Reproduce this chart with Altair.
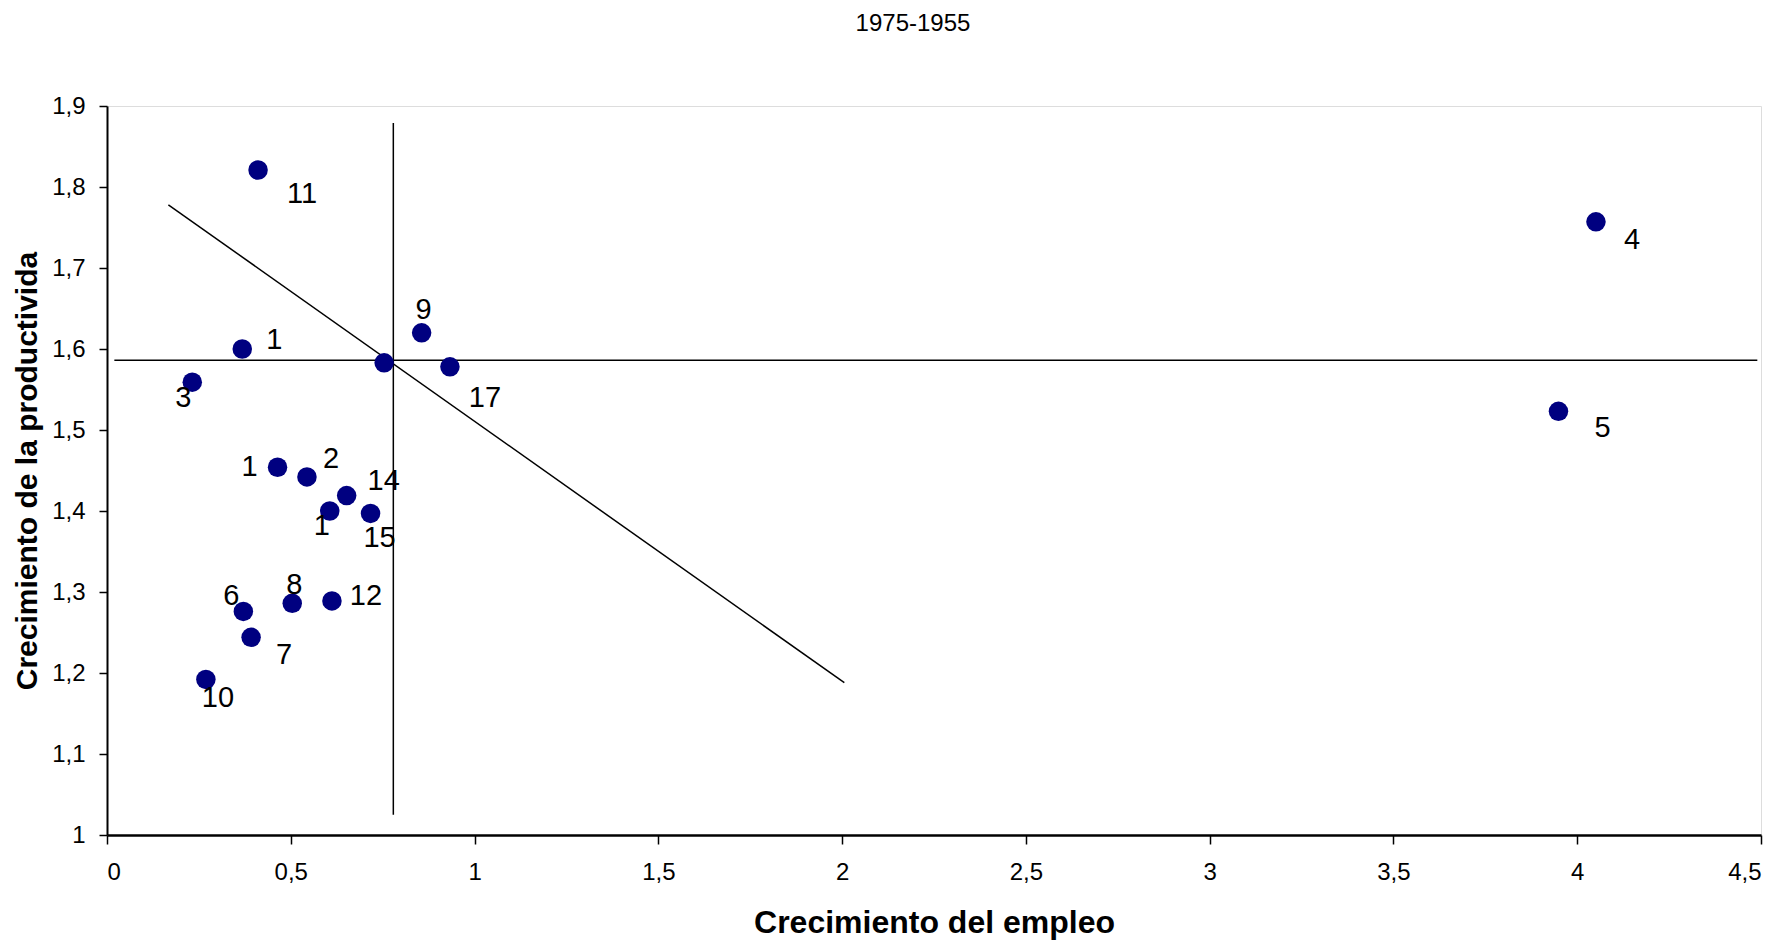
import altair as alt
import pandas as pd

# ---- data ----
labels = ["11", "1", "3", "", "9", "17", "4", "5", "1", "2", "14", "1", "15", "6", "8", "12", "7", "10"]
empleo = [0.411, 0.368, 0.232, 0.754, 0.856, 0.933, 4.051, 3.949, 0.464, 0.544, 0.652, 0.606, 0.717, 0.371, 0.504, 0.612, 0.392, 0.269]
productividad = [1.821, 1.600, 1.559, 1.583, 1.620, 1.578, 1.757, 1.523, 1.454, 1.442, 1.419, 1.400, 1.397, 1.276, 1.286, 1.289, 1.244, 1.192]
# label nudges in pixels (right, down)
label_dx = [44, 32, -9, 0, 2, 35, 36, 44, -28, 24, 37, -8, 9, -12, 2, 34, 33, 12]
label_dy = [24, -9, 16, 0, -23, 31, 18, 17, 0, -18, -15, 15, 25, -15, -18, -5, 18, 19]

hline_x = [0.02, 4.49]
hline_y = [1.586, 1.586]
vline_x = [0.779, 0.779]
vline_y = [1.025, 1.879]
diag_x = [0.167, 2.006]
diag_y = [1.778, 1.188]

x_ticks = [0, 0.5, 1, 1.5, 2, 2.5, 3, 3.5, 4, 4.5]
y_ticks = [1.0, 1.1, 1.2, 1.3, 1.4, 1.5, 1.6, 1.7, 1.8, 1.9]
chart_title = ["1975-1955"]

W, H = 1654, 729
XMIN, XMAX, YMIN, YMAX = 0, 4.5, 1.0, 1.9
px_x = W / (XMAX - XMIN)
px_y = H / (YMAX - YMIN)

FONT = "Liberation Sans"

pts = pd.DataFrame({"x": empleo, "y": productividad, "label": labels})
lab = pd.DataFrame({
    "x": [a + d / px_x for a, d in zip(empleo, label_dx)],
    "y": [b - d / px_y for b, d in zip(productividad, label_dy)],
    "label": labels,
})

lines = pd.DataFrame({
    "x": hline_x + vline_x + diag_x,
    "y": hline_y + vline_y + diag_y,
    "g": ["h", "h", "v", "v", "d", "d"],
})

lab_expr = "replace(format(datum.value, '.2~f'), '.', ',')"

xscale = alt.Scale(domain=[XMIN, XMAX], nice=False, zero=False)
yscale = alt.Scale(domain=[YMIN, YMAX], nice=False, zero=False)

xaxis = alt.Axis(
    values=x_ticks, labelExpr=lab_expr, grid=False,
    title="Crecimiento del empleo", titleFont=FONT, titleFontSize=32, titleFontWeight="bold",
    titleColor="black", titleY=97, titleBaseline="alphabetic",
    labelFont=FONT, labelFontSize=24, labelColor="black", labelPadding=16,
    labelBaseline="top",
    tickSize=9, tickColor="black", tickWidth=1.5,
    domainColor="black", domainWidth=2.5,
)
yaxis = alt.Axis(
    values=y_ticks, labelExpr=lab_expr, grid=False,
    title="Crecimiento de la productivida", titleFont=FONT, titleFontSize=30, titleFontWeight="bold",
    titleColor="black", titleX=-71, titleY=H / 2, titleAngle=-90, titleAlign="center",
    titleBaseline="alphabetic",
    labelFont=FONT, labelFontSize=24, labelColor="black", labelPadding=14,
    tickSize=8, tickColor="black", tickWidth=1.5,
    domainColor="black", domainWidth=2,
)

base = alt.Chart(lines).mark_line(color="black", strokeWidth=1.5).encode(
    x=alt.X("x:Q", scale=xscale, axis=xaxis),
    y=alt.Y("y:Q", scale=yscale, axis=yaxis),
    detail="g:N",
)

points = alt.Chart(pts).mark_circle(size=380, color="#000080", opacity=1).encode(
    x=alt.X("x:Q", scale=xscale),
    y=alt.Y("y:Q", scale=yscale),
)

texts = alt.Chart(lab).mark_text(font=FONT, fontSize=29, color="black", align="center", baseline="middle").encode(
    x=alt.X("x:Q", scale=xscale),
    y=alt.Y("y:Q", scale=yscale),
    text="label:N",
)

title_mark = alt.Chart(pd.DataFrame({"t": chart_title})).mark_text(
    font=FONT, fontSize=24, color="black", align="center", baseline="alphabetic",
).encode(
    text="t:N",
    x=alt.value(W / 2 - 21),
    y=alt.value(-75),
)

chart = alt.layer(base, points, texts, title_mark).properties(
    width=W, height=H,
    autosize=alt.AutoSizeParams(type="none"),
    padding={"left": 99, "top": 98, "right": 12, "bottom": 106},
).configure_view(
    stroke="#808080", strokeWidth=2.5,
).configure(background="white")

chart.save("out.html", embed_options={"renderer": "svg", "actions": False})
